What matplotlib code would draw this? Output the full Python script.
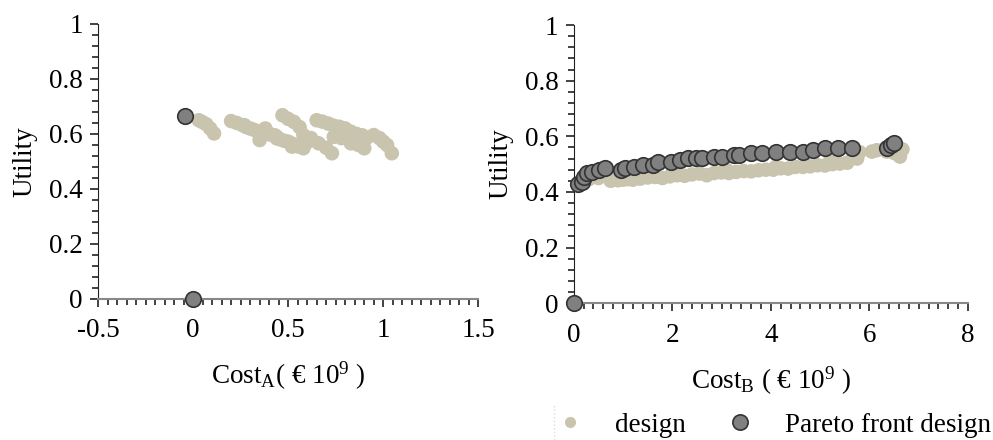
import matplotlib.pyplot as plt
from matplotlib.ticker import MultipleLocator, FormatStrFormatter
from matplotlib.lines import Line2D

plt.rcParams['font.family'] = ['Liberation Serif', 'DejaVu Serif']
plt.rcParams['mathtext.fontset'] = 'custom'
plt.rcParams['mathtext.rm'] = 'Liberation Serif'
plt.rcParams['mathtext.it'] = 'Liberation Serif:italic'

# Model A - all designs
design_a_cost = [0.03, 0.05, 0.07, 0.09, 0.11, 0.2, 0.23, 0.26, 0.28, 0.3, 0.32, 0.34, 0.36,
                 0.38, 0.39, 0.41, 0.43, 0.44, 0.46, 0.48, 0.5, 0.52, 0.55, 0.58, 0.35,
                 0.4, 0.47, 0.5, 0.53, 0.56, 0.58, 0.62, 0.66, 0.7, 0.73, 0.65, 0.68,
                 0.71, 0.74, 0.77, 0.8, 0.83, 0.86, 0.89, 0.91, 0.95, 0.98, 1.0, 1.02,
                 1.045, 0.74, 0.78, 0.83, 0.87, 0.9, 0.27, 0.44, 0.52, 0.6]
design_a_util = [0.65, 0.643, 0.635, 0.62, 0.602, 0.647, 0.64, 0.632, 0.625, 0.62, 0.615, 0.61, 0.607,
                 0.62, 0.6, 0.598, 0.595, 0.584, 0.58, 0.575, 0.572, 0.565, 0.555, 0.548, 0.578,
                 0.6, 0.668, 0.655, 0.644, 0.625, 0.596, 0.585, 0.566, 0.55, 0.53, 0.65, 0.645,
                 0.638, 0.63, 0.626, 0.62, 0.608, 0.6, 0.595, 0.584, 0.596, 0.585, 0.572, 0.56,
                 0.53, 0.59, 0.585, 0.566, 0.56, 0.548, 0.632, 0.59, 0.554, 0.57]
pareto_a_cost = [-0.04, 0.0]
pareto_a_util = [0.666, 0.0]

# Model B - all designs
design_b_cost = [0.1, 0.2, 0.3, 0.5, 0.7, 0.75, 0.9, 1.0, 1.1, 1.2, 1.35, 1.5, 1.65, 1.8, 1.95,
                 2.1, 2.25, 2.4, 2.55, 2.7, 2.85, 3.0, 3.15, 3.3, 3.45, 3.6, 3.75, 3.9, 4.05,
                 4.2, 4.35, 4.5, 4.65, 4.8, 4.95, 5.1, 5.25, 5.4, 5.55, 5.7, 5.8, 6.05, 6.15,
                 6.35, 6.5, 6.62, 6.67, 1.05, 2.0, 3.1, 4.1, 5.2, 5.75]
design_b_util = [0.435, 0.44, 0.445, 0.45, 0.455, 0.44, 0.442, 0.444, 0.446, 0.444, 0.448, 0.452, 0.454, 0.45, 0.456,
                 0.46, 0.458, 0.463, 0.466, 0.46, 0.468, 0.47, 0.468, 0.472, 0.475, 0.474, 0.478, 0.48, 0.48,
                 0.485, 0.484, 0.49, 0.49, 0.492, 0.496, 0.495, 0.5, 0.502, 0.505, 0.53, 0.543, 0.545, 0.55,
                 0.545, 0.54, 0.527, 0.553, 0.458, 0.465, 0.48, 0.49, 0.51, 0.52]
pareto_b_cost = [0.0, 0.08, 0.16, 0.2, 0.27, 0.37, 0.51, 0.64, 0.95, 1.05, 1.23, 1.4, 1.6, 1.7,
                 1.98, 2.15, 2.32, 2.49, 2.6, 2.84, 3.0, 3.25, 3.35, 3.59, 3.83, 4.1, 4.38,
                 4.65, 4.86, 5.1, 5.37, 5.64, 6.36, 6.43, 6.5]
pareto_b_util = [0.0, 0.43, 0.436, 0.455, 0.467, 0.473, 0.479, 0.485, 0.479, 0.485, 0.491, 0.497, 0.497, 0.509,
                 0.509, 0.515, 0.521, 0.521, 0.521, 0.527, 0.527, 0.533, 0.533, 0.539, 0.539, 0.545, 0.545,
                 0.545, 0.552, 0.558, 0.558, 0.558, 0.558, 0.57, 0.576]

design_color = '#c8c4ae'
pareto_color = '#808080'
fs = 19.5

fig = plt.figure(figsize=(9.93, 4.4), dpi=100)
ax1 = fig.add_axes([0.0987, 0.3205, 0.383, 0.625])
ax2 = fig.add_axes([0.5778, 0.311, 0.397, 0.632])

panels = [
    (ax1, design_a_cost, design_a_util, pareto_a_cost, pareto_a_util,
     (-0.5, 1.5), 0.5, 0.05, r'Cost$_\mathrm{A}$( € 10$^9$ )'),
    (ax2, design_b_cost, design_b_util, pareto_b_cost, pareto_b_util,
     (0, 8), 2, 0.2, r'Cost$_\mathrm{B}$ ( € 10$^9$ )'),
]

for ax, dx, dy, px, py, xlim, xmaj, xmin, xlabel in panels:
    ax.scatter(dx, dy, s=110, color=design_color, edgecolors='none', zorder=2,
               clip_on=False)
    ax.scatter(px, py, s=125, color=pareto_color, edgecolors='#333333', linewidths=1.2,
               zorder=3, clip_on=False)
    ax.set_xlim(*xlim)
    ax.set_ylim(0, 1)
    ax.spines['top'].set_visible(False)
    ax.spines['right'].set_visible(False)
    ax.spines['left'].set_color('#222222')
    ax.spines['bottom'].set_color('#888888')
    ax.spines['bottom'].set_linewidth(1.5)
    ax.xaxis.set_major_locator(MultipleLocator(xmaj))
    ax.xaxis.set_minor_locator(MultipleLocator(xmin))
    ax.yaxis.set_major_locator(MultipleLocator(0.2))
    ax.yaxis.set_minor_locator(MultipleLocator(0.04))
    ax.xaxis.set_major_formatter(FormatStrFormatter('%g'))
    ax.yaxis.set_major_formatter(FormatStrFormatter('%g'))
    ax.tick_params(axis='both', which='major', direction='out', length=6, width=1.2,
                   labelsize=fs, color='#222222', pad=5)
    ax.tick_params(axis='x', which='major', pad=8)
    ax.tick_params(axis='both', which='minor', direction='out', length=4, width=1.2,
                   color='#222222')
    ax.set_ylabel('Utility', fontsize=fs, labelpad=8)
    ax.set_xlabel(xlabel, fontsize=fs, labelpad=12)

handles = [
    Line2D([], [], linestyle='none', marker='o', markersize=8, color=design_color,
           markeredgecolor='none'),
    Line2D([], [], linestyle='none', marker='o', markersize=11, color=pareto_color,
           markeredgecolor='#333333', markeredgewidth=1.2),
]
fig.legend(handles, ['design', 'Pareto front design'], loc='lower right',
           bbox_to_anchor=(1.023, -0.05), ncol=2, frameon=False, fontsize=fs,
           handletextpad=1.17, columnspacing=1.5, handlelength=1.0)
fig.add_artist(Line2D([0.558, 0.558], [0.0, 0.08], transform=fig.transFigure,
                      color='#dddddd', linestyle=':', linewidth=1))

fig.savefig('out.png', dpi=100)
